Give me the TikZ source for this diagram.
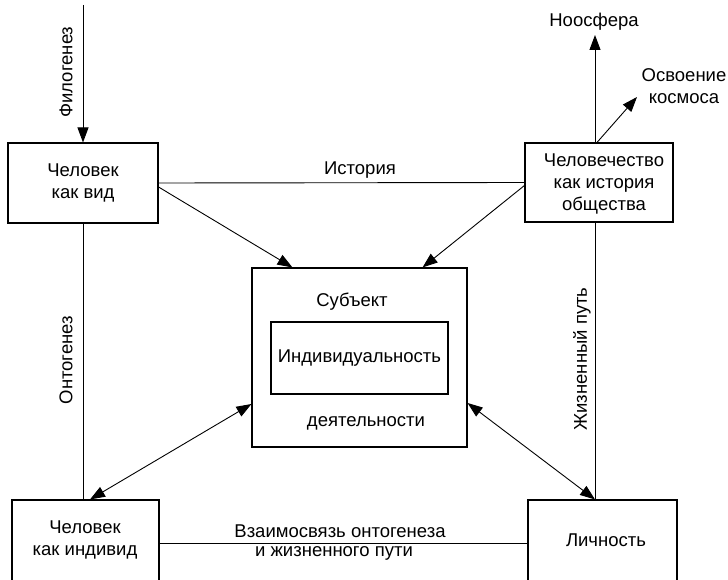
\documentclass[tikz,border=0pt]{standalone}
\usepackage{fontspec}
\setmainfont{Liberation Sans}
\usetikzlibrary{arrows.meta}
\begin{document}
\begin{tikzpicture}[x=1pt,y=-1pt,
  every node/.style={font=\fontsize{18.5}{22}\selectfont, inner sep=1pt},
  box/.style={draw, line width=1.1pt, rectangle, align=center},
  txt/.style={align=center},
  conn/.style={line width=0.9pt},
  tip/.style={},
  arr/.style={conn, -{Triangle[length=15pt,width=11pt]}},
  dbl/.style={conn, {Triangle[length=15pt,width=11pt]}-{Triangle[length=15pt,width=11pt]}}]
\useasboundingbox[fill=white] (0,0) rectangle (728,580);
% boxes
\node[box, minimum width=150pt, minimum height=80pt] (A) at (83,183) {Человек\\как вид};
\node[box, minimum width=148pt, minimum height=79pt] (B) at (599,182.5) {};
\node[txt] (Bt) at (604,184) {Человечество\\как история\\общества};
\node[box, minimum width=147pt, minimum height=100pt] (C) at (85.5,550) {};
\node[txt] (Ct) at (85,540) {Человек\\как индивид};
\node[box, minimum width=149pt, minimum height=100pt] (D) at (602.5,550) {};
\node[txt] (Dt) at (606,540) {Личность};
\node[box, minimum width=215pt, minimum height=179pt] (S) at (359.5,357.5) {};
\node[box, minimum width=177pt, minimum height=72pt] (I) at (359.5,358) {Индивидуальность};
\node[txt] (S1) at (352,302) {Субъект};
\node[txt] (S2) at (366,423) {деятельности};
% phylogenesis
\coordinate (phtop) at (83,5);
\draw[arr] (phtop) -- (A.north);
\node[rotate=90] (phl) at (66,72) {Филогенез};
% history
\draw[conn] (A.east) -- (B.west);
\node (hist) at (360,170) {История};
% diagonals into subject
\draw[arr] ([yshift=-4pt]A.east) -- ([xshift=41pt]S.north west);
\draw[arr] ([yshift=-3pt]B.west) -- ([xshift=-45pt]S.north east);
% noosphere and space
\coordinate (nootip) at (595,35);
\node (noo) at (594,22) {Ноосфера};
\draw[arr] ([xshift=-4pt]B.north) -- (nootip);
\coordinate (kostip) at (637,97);
\node[txt] (kos) at (684,86) {Освоение\\космоса};
\draw[arr] ([xshift=-2pt]B.north) -- (kostip);
% ontogenesis
\draw[conn] (A.south) -- (A.south |- C.north);
\node[rotate=90] (ont) at (66,360) {Онтогенез};
% life path
\draw[conn] ([xshift=-4pt]B.south) -- ([xshift=-7.5pt]D.north);
\node[rotate=90] (zp) at (582,359) {Жизненный путь};
% double arrows
\draw[dbl] ([yshift=-46.5pt]S.west) -- ([xshift=4.5pt]C.north);
\draw[dbl] ([yshift=-45.5pt]S.east) -- ([xshift=-7.5pt]D.north);
% bottom link
\draw[conn] ([yshift=7pt]C.east) -- ([yshift=7pt]D.west);
\node (vz1) at (340,531) {Взаимосвязь онтогенеза};
\node (vz2) at (334,553) {и жизненного пути};
\end{tikzpicture}
\end{document}
